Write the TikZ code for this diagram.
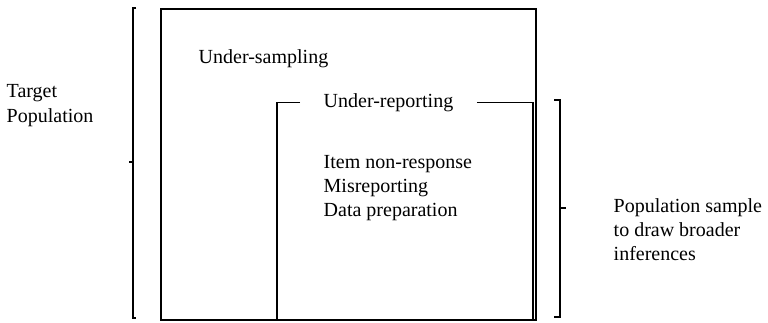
\documentclass[tikz,border=0pt]{standalone}
\usepackage{fontspec}
\setmainfont{Liberation Serif}
\usetikzlibrary{positioning}

\tikzset{
  lbl/.style={anchor=base west, inner sep=0pt, font=\fontsize{20}{24.5}\selectfont},
  brk/.style={line width=1.2pt},
}

\begin{document}
\begin{tikzpicture}[x=1pt, y=-1pt, line width=1.4pt, line join=miter]
    \useasboundingbox (0,0) rectangle (768,322);
    % outer box
    \draw (161,9) rectangle (536,320);
    \node[lbl] (samp) at (198,63) {Under-sampling};
    % inner box, open top around its label
    \node[lbl] (rep) at (323,107) {Under-reporting};
    \draw ([xshift=-23pt]rep.west) -| (277,320);
    \draw ([xshift=23pt]rep.east) -| (533,320);
    \node[lbl] (item) at (323,168) {Item non-response};
    \node[lbl] (misr) at (323,192) {Misreporting};
    \node[lbl] (prep) at (323,216) {Data preparation};
    % left bracket
    \draw[brk] (136,8) -- (133,8) -- (133,318) -- (136,318);
    \draw[brk] (133,162) -- (129,162);
    \node[lbl] (targ) at (6,97) {Target};
    \node[lbl] (pop) at (6,122) {Population};
    % right bracket
    \draw[brk] (554,100) -- (560,100) -- (560,317) -- (554,317);
    \draw[brk] (560,208) -- (566,208);
    \node[lbl] (psam) at (613,212) {Population sample};
    \node[lbl] (draw) at (613,236) {to draw broader};
    \node[lbl] (inf) at (613,260) {inferences};
  \end{tikzpicture}
\end{document}
